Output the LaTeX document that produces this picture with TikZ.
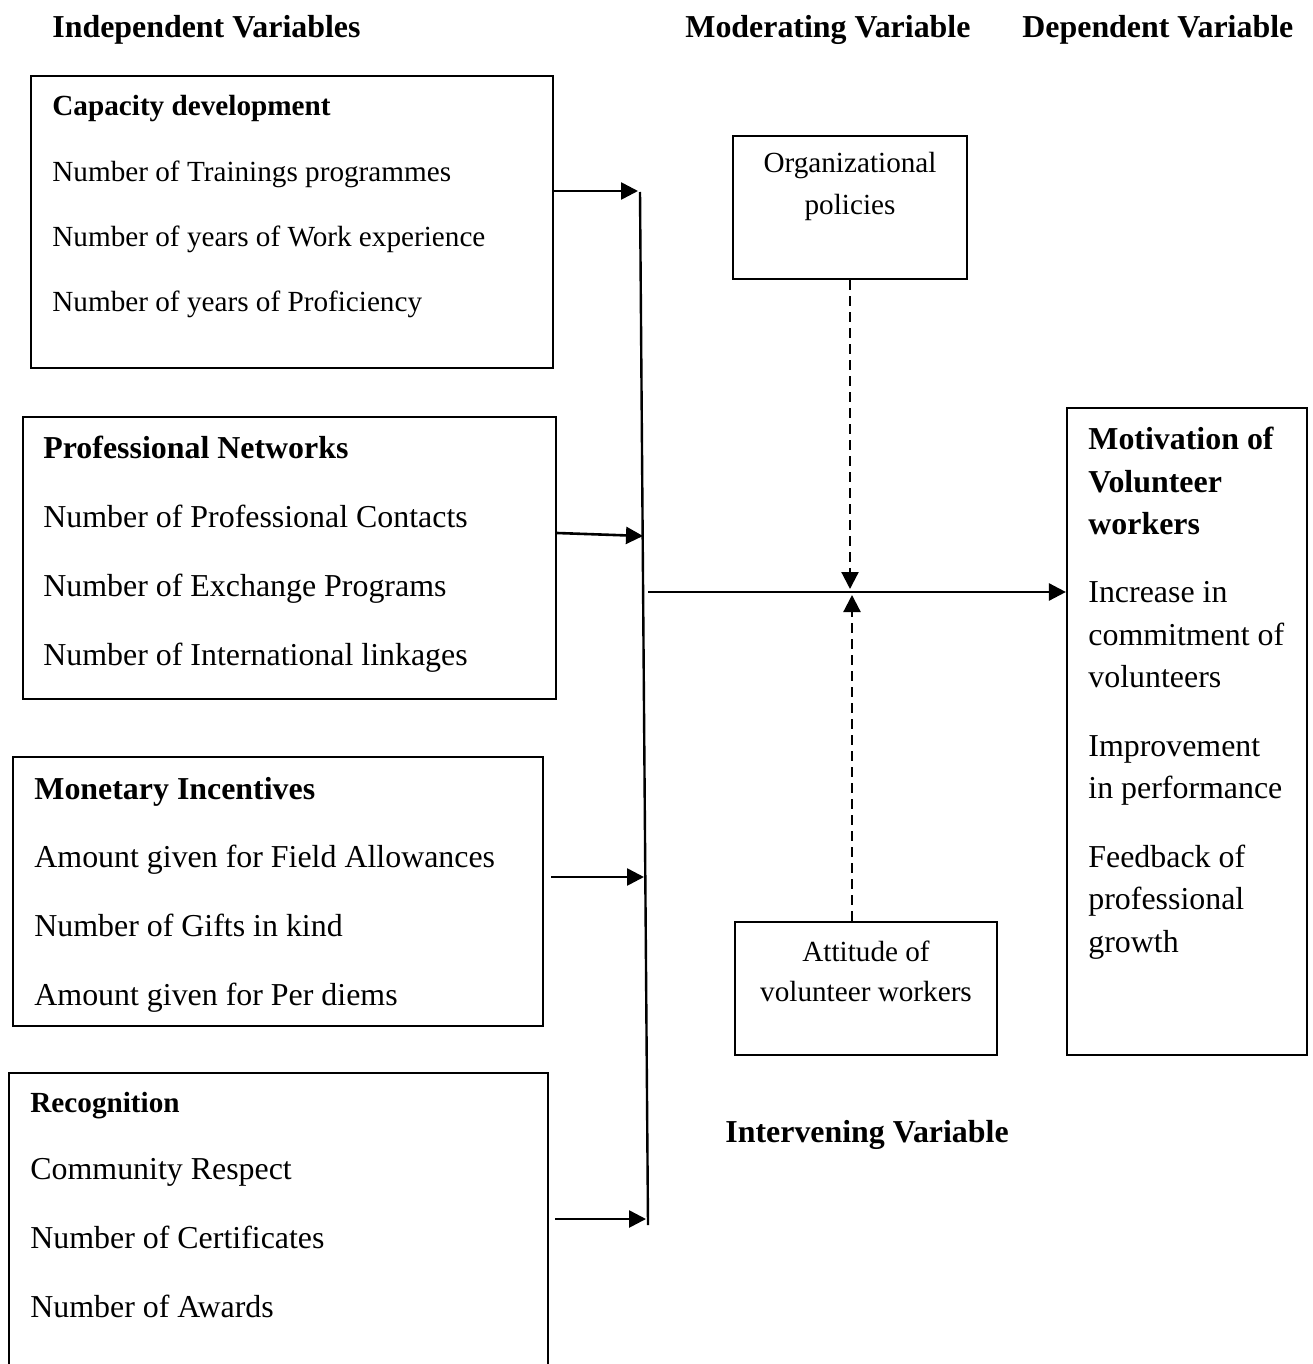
\documentclass[tikz,border=0pt]{standalone}
\usepackage{fontspec}
\setmainfont{Liberation Serif}
\usetikzlibrary{arrows.meta}
\newcommand\fbody{\fontsize{15.95}{21.25}\selectfont}
\newcommand\fsmall{\fontsize{14.6}{21}\selectfont}
\tikzset{
  box/.style={draw, line width=1.1pt, inner sep=0pt},
  txt/.style={anchor=base west, inner sep=0pt, yshift=-1pt, font=\fbody},
  stxt/.style={anchor=base west, inner sep=0pt, yshift=-1pt, font=\fsmall},
  ctxt/.style={anchor=base, inner sep=0pt, yshift=-1pt, font=\fsmall},
  head/.style={anchor=base west, inner sep=0pt, yshift=-1pt, font=\fbody\bfseries},
  conn/.style={line width=1.2pt},
  arr/.style={line width=1.3pt, -{Triangle[length=8.5pt,width=8.5pt]}},
  dasharr/.style={line width=1.1pt, dash pattern=on 5pt off 3pt, -{Triangle[length=8.5pt,width=8.5pt]}},
}
\begin{document}
\begin{tikzpicture}[x=0.5pt,y=-0.5pt]
\useasboundingbox (0,0) rectangle (1312,1364);
\clip (0,0) rectangle (1312,1364);
\fill[white] (0,0) rectangle (1312,1364);

% headers
\node[head] (hInd) at (52,36) {Independent Variables};
\node[head] (hMod) at (685,36) {Moderating Variable};
\node[head] (hDep) at (1022,36) {Dependent Variable};
\node[head] (hInt) at (725,1140) {Intervening Variable};

% boxes
\node[box, minimum width=261pt, minimum height=146pt] (b1) at (292,222) {};
\node[box, minimum width=266.5pt, minimum height=141pt] (b2) at (289.5,558) {};
\node[box, minimum width=265pt, minimum height=134.5pt] (b3) at (278,891.5) {};
\node[box, minimum width=269.5pt, minimum height=173.5pt] (b4) at (278.5,1246.5) {};
\node[box, minimum width=117pt, minimum height=71.5pt] (org) at (850,207.5) {};
\node[box, minimum width=131pt, minimum height=66.5pt] (att) at (866,988.5) {};
\node[box, minimum width=120pt, minimum height=323.5pt] (b5) at (1187,731.5) {};

% box 1
\node[stxt, font=\fsmall\bfseries] (t1a) at (52,114) {Capacity development};
\node[stxt] (t1b) at (52,180) {Number of Trainings programmes};
\node[stxt] (t1c) at (52,245) {Number of years of Work experience};
\node[stxt] (t1d) at (52,309) {Number of years of Proficiency};

% box 2
\node[head] (t2a) at (43,456) {Professional Networks};
\node[txt] (t2b) at (43,525) {Number of Professional Contacts};
\node[txt] (t2c) at (43,594) {Number of Exchange Programs};
\node[txt] (t2d) at (43,663) {Number of International linkages};

% box 3
\node[head] (t3a) at (34,797) {Monetary Incentives};
\node[txt] (t3b) at (34,865) {Amount given for Field Allowances};
\node[txt] (t3c) at (34,934) {Number of Gifts in kind};
\node[txt] (t3d) at (34,1003) {Amount given for Per diems};

% box 4
\node[stxt, font=\fsmall\bfseries] (t4a) at (30,1110) {Recognition};
\node[txt] (t4b) at (30,1177) {Community Respect};
\node[txt] (t4c) at (30,1246) {Number of Certificates};
\node[txt] (t4d) at (30,1315) {Number of Awards};

% moderating / intervening
\node[ctxt] (o1) at (850,171) {Organizational};
\node[ctxt] (o2) at (850,213) {policies};
\node[ctxt] (a1) at (866,959) {Attitude of};
\node[ctxt] (a2) at (866,999) {volunteer workers};

% dependent
\node[head] (d1) at (1088,447) {Motivation of};
\node[head] (d2) at (1088,490) {Volunteer};
\node[head] (d3) at (1088,532) {workers};
\node[txt] (d4) at (1088,600) {Increase in};
\node[txt] (d5) at (1088,643) {commitment of};
\node[txt] (d6) at (1088,685) {volunteers};
\node[txt] (d7) at (1088,754) {Improvement};
\node[txt] (d8) at (1088,796) {in performance};
\node[txt] (d9) at (1088,865) {Feedback of};
\node[txt] (d10) at (1088,907) {professional};
\node[txt] (d11) at (1088,950) {growth};

% bus
\coordinate (busT) at (640,192);
\coordinate (busB) at (648,1225);
\draw[conn] (busT) -- (busB);

% arrows into the bus
\coordinate (e1) at (638,191);
\coordinate (s2) at (556,533);
\coordinate (e2) at (643,536);
\coordinate (s3) at (551,877);
\coordinate (e3) at (644,877);
\coordinate (s4) at (555,1219);
\coordinate (e4) at (646,1219);
\draw[arr] (b1.east |- e1) -- (e1);
\draw[arr] (b2.east |- s2) -- (e2);
\draw[arr] (s3) -- (e3);
\draw[arr] (s4) -- (e4);

% main arrow
\coordinate (hub) at (648,592);
\draw[arr] (hub) -- (b5.west |- hub);

% dashed arrows
\coordinate (m1) at (850,589);
\coordinate (m2) at (852,595);
\draw[dasharr] (org.south) -- (m1);
\draw[dasharr] (att.north -| m2) -- (m2);
\end{tikzpicture}
\end{document}
